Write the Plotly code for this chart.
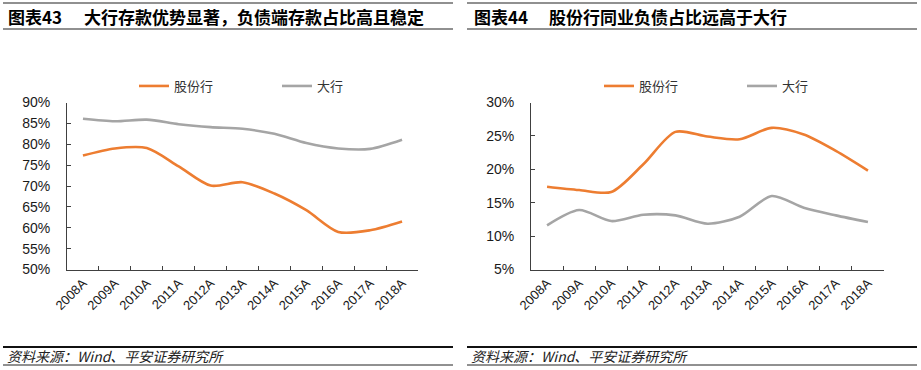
import plotly.graph_objects as go

years = ["2008A", "2009A", "2010A", "2011A", "2012A", "2013A", "2014A", "2015A", "2016A", "2017A", "2018A"]

# Chart 43: deposit share of liabilities (%)
deposit_joint = [77.3, 79.0, 79.1, 74.7, 70.1, 70.9, 68.2, 64.2, 59.0, 59.4, 61.5]
deposit_big = [86.1, 85.5, 85.9, 84.8, 84.1, 83.7, 82.5, 80.3, 79.0, 78.9, 81.1]

# Chart 44: interbank liabilities share (%)
interbank_joint = [17.4, 16.9, 16.6, 20.75, 25.6, 24.9, 24.5, 26.2, 25.2, 22.75, 19.8]
interbank_big = [11.6, 13.9, 12.25, 13.2, 13.1, 11.85, 12.9, 16.0, 14.25, 13.1, 12.1]

left_ticks = [50, 55, 60, 65, 70, 75, 80, 85, 90]
left_tick_labels = ["50%", "55%", "60%", "65%", "70%", "75%", "80%", "85%", "90%"]
right_ticks = [5, 10, 15, 20, 25, 30]
right_tick_labels = ["5%", "10%", "15%", "20%", "25%", "30%"]

title_left_no = "图表43"
title_left = "大行存款优势显著，负债端存款占比高且稳定"
title_right_no = "图表44"
title_right = "股份行同业负债占比远高于大行"
source = "资料来源：Wind、平安证券研究所"
name_joint = "股份行"
name_big = "大行"

ORANGE = "#ED7D31"
GRAY = "#A5A5A5"
AX = "#404040"
FONT = "Liberation Sans, Arial, Noto Sans CJK SC, sans-serif"
CJK = "Noto Sans CJK SC, sans-serif"

W, H = 921, 370

fig = go.Figure()
fig.add_trace(go.Scatter(x=years, y=deposit_joint, name=name_joint, mode="lines",
                         line=dict(color=ORANGE, width=2.6, shape="spline", smoothing=0.8),
                         xaxis="x", yaxis="y", legend="legend"))
fig.add_trace(go.Scatter(x=years, y=deposit_big, name=name_big, mode="lines",
                         line=dict(color=GRAY, width=2.6, shape="spline", smoothing=0.8),
                         xaxis="x", yaxis="y", legend="legend"))
fig.add_trace(go.Scatter(x=years, y=interbank_joint, name=name_joint, mode="lines",
                         line=dict(color=ORANGE, width=2.6, shape="spline", smoothing=0.8),
                         xaxis="x2", yaxis="y2", legend="legend2"))
fig.add_trace(go.Scatter(x=years, y=interbank_big, name=name_big, mode="lines",
                         line=dict(color=GRAY, width=2.6, shape="spline", smoothing=0.8),
                         xaxis="x2", yaxis="y2", legend="legend2"))

ydom = [1 - 269.5 / H, 1 - 102.5 / H]
xrange = [-0.5, len(years) - 0.5]

xcommon = dict(type="category", range=xrange, showline=True, linecolor=AX, linewidth=1,
               ticks="inside", ticklen=4, tickcolor=AX, tickson="boundaries",
               tickangle=-45, tickfont=dict(family=FONT, size=13, color="#1a1a1a"),
               showgrid=False, zeroline=False, automargin=False, fixedrange=True)
ycommon = dict(showline=True, linecolor=AX, linewidth=1, ticks="inside", ticklen=4,
               tickcolor=AX, tickmode="array", showgrid=False, zeroline=False, automargin=False,
               tickfont=dict(family=FONT, size=14, color="#1a1a1a"), ticklabelstandoff=13)

legend_common = dict(orientation="h", yanchor="top", xanchor="left", y=1 - 71 / H,
                     entrywidth=98, entrywidthmode="pixels",
                     font=dict(family=CJK, size=13, color="#333333"),
                     bgcolor="rgba(0,0,0,0)", borderwidth=0)

fig.update_layout(
    template="none",
    width=W, height=H, margin=dict(l=0, r=0, t=0, b=0, pad=0),
    paper_bgcolor="white", plot_bgcolor="white",
    font=dict(family=FONT, color="#1a1a1a"),
    xaxis=dict(domain=[67 / W, 418 / W], anchor="y", **xcommon),
    yaxis=dict(domain=ydom, anchor="x", range=[50, 90], tickvals=left_ticks,
               ticktext=left_tick_labels, **ycommon),
    xaxis2=dict(domain=[531 / W, 884 / W], anchor="y2", **xcommon),
    yaxis2=dict(domain=ydom, anchor="x2", range=[5, 30], tickvals=right_ticks,
                ticktext=right_tick_labels, **ycommon),
    legend=dict(x=134 / W, **legend_common),
    legend2=dict(x=599 / W, **legend_common),
    showlegend=True,
)

# header / footer rules
for x0, x1 in [(3, 453), (467, 917)]:
    fig.add_shape(type="line", xref="paper", yref="paper", x0=x0 / W, x1=x1 / W,
                  y0=1 - 3 / H, y1=1 - 3 / H, line=dict(color="#222222", width=1.2))
    fig.add_shape(type="line", xref="paper", yref="paper", x0=x0 / W, x1=x1 / W,
                  y0=1 - 29 / H, y1=1 - 29 / H, line=dict(color="#222222", width=1.2))
    fig.add_shape(type="line", xref="paper", yref="paper", x0=x0 / W, x1=x1 / W,
                  y0=1 - 347 / H, y1=1 - 347 / H, line=dict(color="#111111", width=2))
    fig.add_shape(type="line", xref="paper", yref="paper", x0=x0 / W, x1=x1 / W,
                  y0=1 - 365 / H, y1=1 - 365 / H, line=dict(color="#222222", width=1))

titles = [(6, title_left_no), (82, title_left), (472, title_right_no), (547, title_right)]
for x, t in titles:
    fig.add_annotation(text="<b>" + t + "</b>", xref="paper", yref="paper", x=x / W, y=1 - 16 / H,
                       xanchor="left", yanchor="middle", showarrow=False,
                       font=dict(family=CJK, size=17, color="#000000"))

for x in [5, 469]:
    fig.add_annotation(text="<i>" + source + "</i>", xref="paper", yref="paper", x=x / W, y=1 - 356 / H,
                       xanchor="left", yanchor="middle", showarrow=False,
                       font=dict(family=CJK, size=14, color="#222222"))

fig.write_html("out.html", config=dict(responsive=False, displayModeBar=False),
               post_script="document.body.style.margin='0px';")
